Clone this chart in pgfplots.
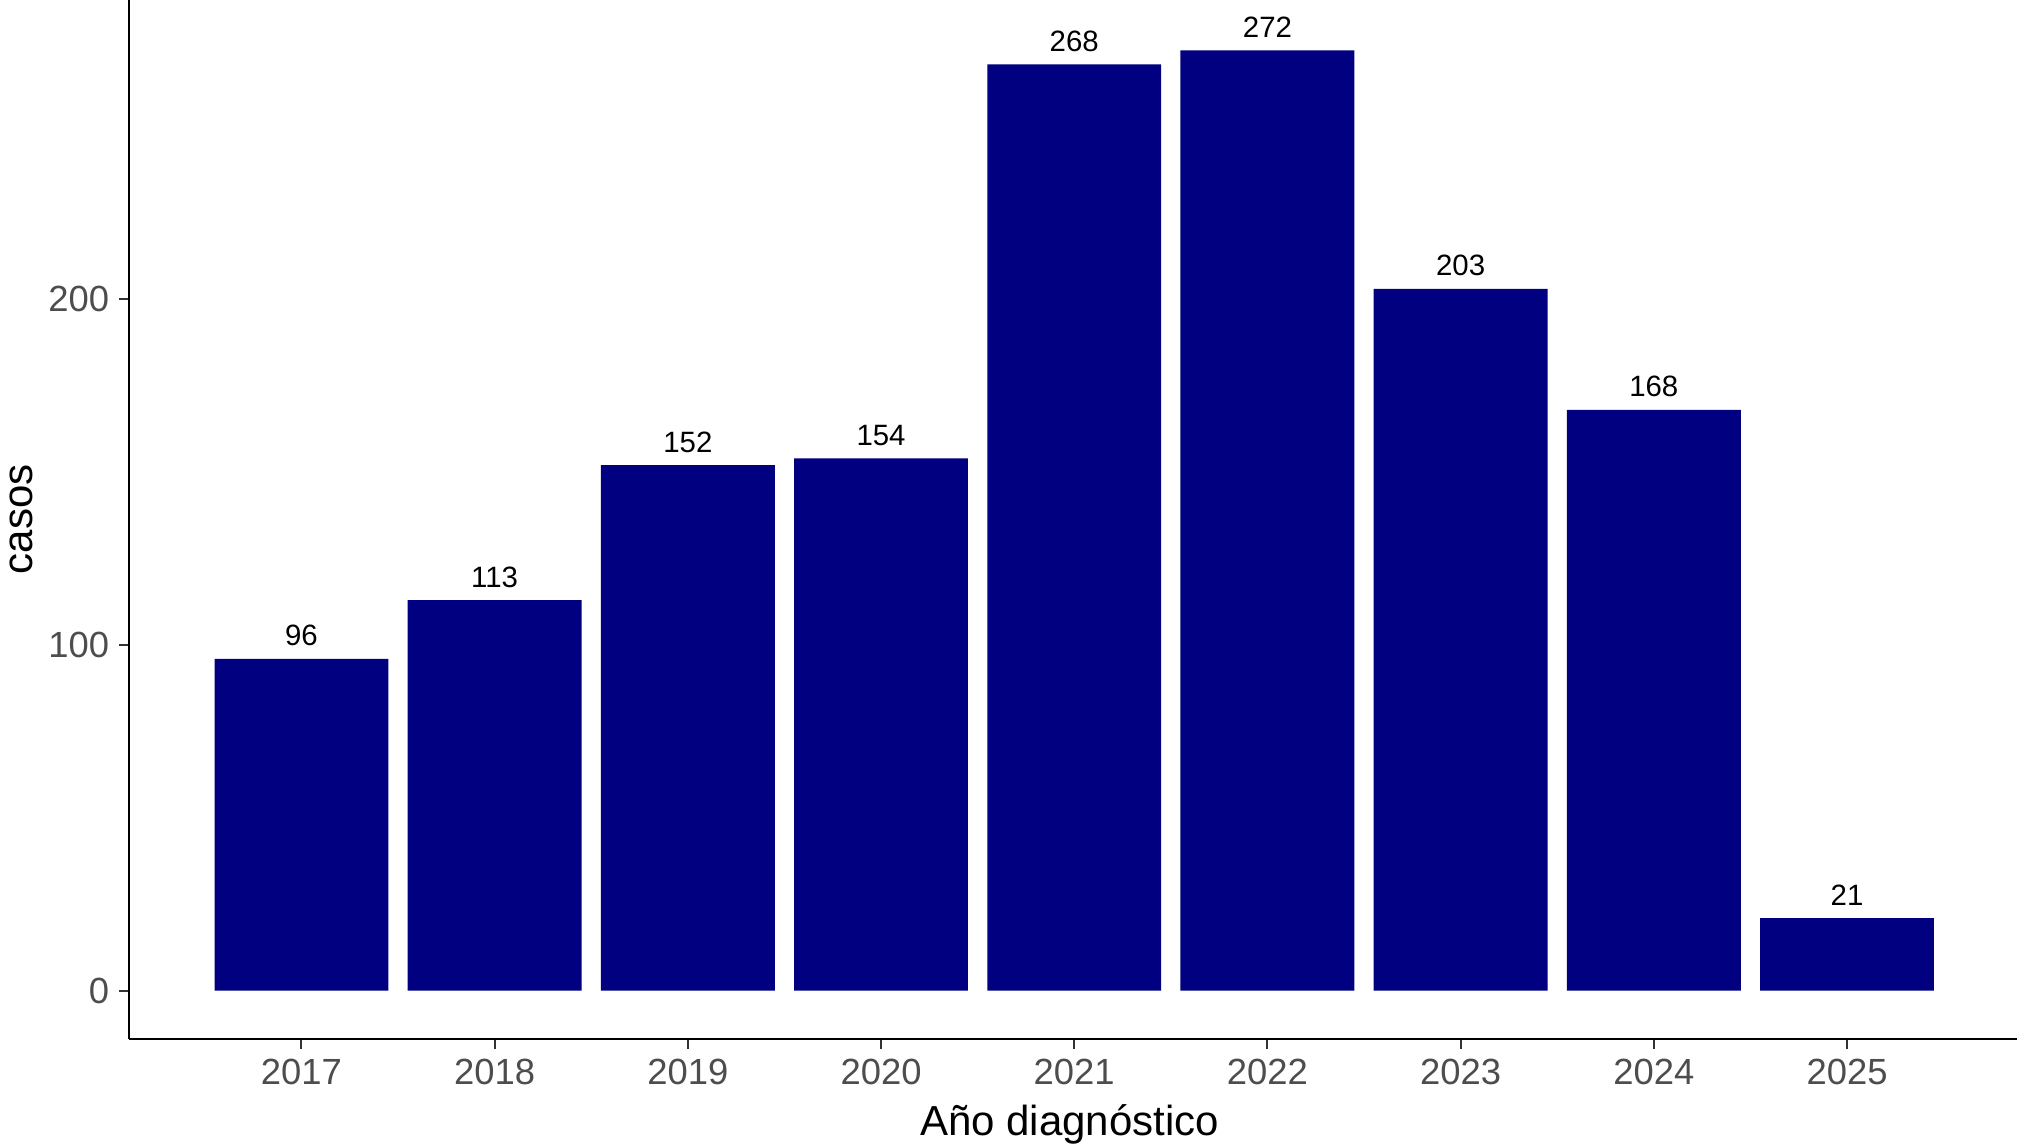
\documentclass[border=0pt]{standalone}
\usepackage{pgfplots}
\pgfplotsset{compat=1.18}
\usepackage{fontspec}
\setmainfont{Liberation Sans}
\definecolor{barnavy}{HTML}{000080}
\definecolor{ticktext}{HTML}{4D4D4D}
\definecolor{tickline}{HTML}{333333}
\begin{document}
\begin{tikzpicture}
\useasboundingbox (-64.75pt,-52.5pt) rectangle (943.75pt,519.5pt);
\begin{axis}[
  at={(0pt,0pt)}, anchor=south west,
  scale only axis, width=943.75pt, height=519.5pt,
  xmin=-0.89, xmax=8.88, ymin=-14, ymax=286.6,
  axis lines=left,
  axis line style={-, line width=1pt, black},
  tick align=outside,
  major tick length=5pt,
  every tick/.style={line width=1pt, tickline},
  xtick={0,1,2,3,4,5,6,7,8},
  xticklabels={2017,2018,2019,2020,2021,2022,2023,2024,2025},
  ytick={0,100,200},
  /pgf/number format/assume math mode=true,
  ticklabel style={font=\fontsize{18.2}{21}\selectfont, text=ticktext},
  xticklabel style={anchor=north, inner sep=0pt, yshift=-5pt},
  yticklabel style={anchor=east, inner sep=0pt, xshift=-5pt},
  xlabel={Año diagnóstico},
  ylabel={casos},
  every axis x label/.style={at={(axis description cs:0.498,-0.0924)}, anchor=base, font=\fontsize{21}{25}\selectfont, text=black},
  every axis y label/.style={at={(axis description cs:-0.0575,0.5)}, anchor=center, rotate=90, font=\fontsize{21}{25}\selectfont, text=black},
  ybar, bar width=0.9,
  nodes near coords,
  every node near coord/.append style={font=\fontsize{14.7}{17}\selectfont, text=black, anchor=base, inner sep=0pt, yshift=6.5pt},
]
\addplot[fill=barnavy, draw=none] coordinates {
  (0,96) (1,113) (2,152) (3,154) (4,268) (5,272) (6,203) (7,168) (8,21)
};
\end{axis}
\end{tikzpicture}
\end{document}
